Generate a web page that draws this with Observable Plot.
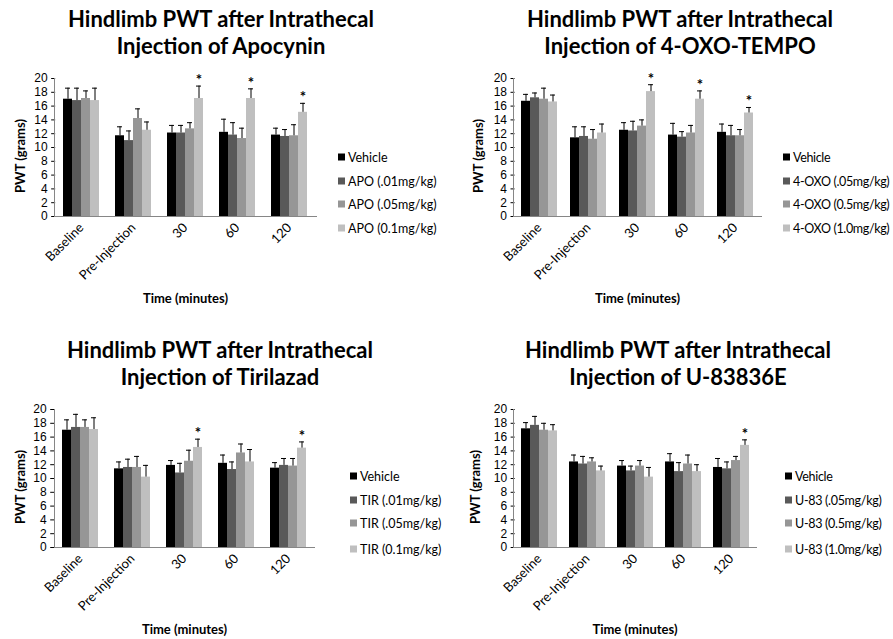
<!DOCTYPE html>
<html><head><meta charset="utf-8">
<script src="https://cdn.jsdelivr.net/npm/d3@7"></script>
<script src="https://cdn.jsdelivr.net/npm/@observablehq/plot@0.6"></script>
<style>
body{margin:0;background:#fff;font-family:Lato,"Open Sans",sans-serif;color:#000;}
#root{position:relative;width:893px;height:639px;overflow:hidden;background:#fff;}
.abs{position:absolute;}
.title{font-weight:bold;font-size:22px;line-height:27px;text-align:center;white-space:nowrap;}
.ylab{font-weight:bold;font-size:13px;transform:translate(-50%,-50%) rotate(-90deg);white-space:nowrap;}
.xlab{font-weight:bold;font-size:13px;transform:translate(-50%,-50%);white-space:nowrap;}
.leg{font-size:12.5px;white-space:nowrap;display:flex;align-items:center;transform:translateY(-50%);}
.sw{width:7px;height:7px;margin-right:3px;flex:none;}
svg [aria-label="y-axis tick"]{stroke:#868686;}
</style></head><body><div id="root"></div><script>
// ---- data ----
const categories = ["Baseline", "Pre-Injection", "30", "60", "120"];
const seriesColors = ["#000000", "#595959", "#969696", "#bfbfbf"];
const yTicks = [0, 2, 4, 6, 8, 10, 12, 14, 16, 18, 20];

// Panel 1: Apocynin
const apoTitle = ["Hindlimb PWT after Intrathecal", "Injection of Apocynin"];
const apoSeries = ["Vehicle", "APO (.01mg/kg)", "APO (.05mg/kg)", "APO (0.1mg/kg)"];
const apoMeans = [
  [17.0, 11.7, 12.1, 12.2, 11.8],
  [16.8, 11.0, 12.1, 11.8, 11.6],
  [17.1, 14.2, 12.7, 11.3, 11.7],
  [16.8, 12.5, 17.1, 17.1, 15.1]
];
const apoSem = [
  [1.6, 1.3, 1.1, 1.9, 1.0],
  [1.8, 1.4, 1.1, 1.8, 1.0],
  [1.1, 1.4, 0.9, 1.5, 1.6],
  [1.8, 1.2, 1.8, 1.4, 1.3]
];
const apoStars = [[0,0,0,0,0],[0,0,0,0,0],[0,0,0,0,0],[0,0,1,1,1]];

// Panel 2: 4-OXO-TEMPO
const oxoTitle = ["Hindlimb PWT after Intrathecal", "Injection of 4-OXO-TEMPO"];
const oxoSeries = ["Vehicle", "4-OXO (.05mg/kg)", "4-OXO (0.5mg/kg)", "4-OXO (1.0mg/kg)"];
const oxoMeans = [
  [16.7, 11.4, 12.5, 11.8, 12.2],
  [17.2, 11.6, 12.4, 11.5, 11.7],
  [17.0, 11.2, 13.1, 12.1, 11.7],
  [16.6, 12.1, 18.1, 17.0, 15.0]
];
const oxoSem = [
  [1.0, 1.6, 1.1, 1.7, 1.2],
  [0.7, 1.4, 1.4, 0.8, 1.5],
  [1.6, 1.4, 0.9, 1.1, 0.9],
  [1.0, 1.3, 1.0, 1.2, 0.8]
];
const oxoStars = [[0,0,0,0,0],[0,0,0,0,0],[0,0,0,0,0],[0,0,1,1,1]];

// Panel 3: Tirilazad
const tirTitle = ["Hindlimb PWT after Intrathecal", "Injection of Tirilazad"];
const tirSeries = ["Vehicle", "TIR (.01mg/kg)", "TIR (.05mg/kg)", "TIR (0.1mg/kg)"];
const tirMeans = [
  [17.0, 11.4, 11.9, 12.2, 11.5],
  [17.4, 11.6, 10.8, 11.3, 11.9],
  [17.4, 11.6, 12.5, 13.7, 11.8],
  [17.1, 10.2, 14.5, 12.4, 14.4]
];
const tirSem = [
  [1.5, 1.0, 0.7, 1.2, 0.8],
  [1.9, 1.2, 1.4, 1.1, 1.0],
  [1.1, 1.6, 1.6, 1.3, 1.1],
  [1.7, 1.7, 1.2, 1.8, 0.9]
];
const tirStars = [[0,0,0,0,0],[0,0,0,0,0],[0,0,0,0,0],[0,0,1,0,1]];

// Panel 4: U-83836E
const uTitle = ["Hindlimb PWT after Intrathecal", "Injection of U-83836E"];
const uSeries = ["Vehicle", "U-83 (.05mg/kg)", "U-83 (0.5mg/kg)", "U-83 (1.0mg/kg)"];
const uMeans = [
  [17.2, 12.4, 11.8, 12.4, 11.6],
  [17.7, 12.1, 11.1, 11.0, 11.4],
  [17.0, 12.4, 11.8, 12.1, 12.6],
  [16.9, 11.1, 10.2, 11.0, 14.8]
];
const uSem = [
  [0.9, 1.0, 0.8, 1.2, 1.3],
  [1.3, 1.1, 0.7, 1.3, 1.0],
  [1.0, 0.6, 0.8, 1.3, 0.6],
  [0.9, 0.7, 1.4, 1.0, 0.8]
];
const uStars = [[0,0,0,0,0],[0,0,0,0,0],[0,0,0,0,0],[0,0,0,0,1]];

const yLabel = "PWT (grams)";
const xLabel = "Time (minutes)";

// ---- layout ----
const panels = [
  {title: apoTitle, series: apoSeries, means: apoMeans, sem: apoSem, stars: apoStars,
   left: 0, top: 60, ml: 54, mr: 13, titleCx: 221, titleTop: 5, legX: 338, legY: [157, 181, 204, 228], legLS: "0px", ylabX: 20, xlabY: 298},
  {title: oxoTitle, series: oxoSeries, means: oxoMeans, sem: oxoSem, stars: oxoStars,
   left: 445, top: 60, ml: 68, mr: 13, titleCx: 680, titleTop: 5, legX: 783, legY: [157, 181, 204, 228], legLS: "-0.35px", ylabX: 478, xlabY: 298},
  {title: tirTitle, series: tirSeries, means: tirMeans, sem: tirSem, stars: tirStars,
   left: 0, top: 391, ml: 54, mr: 15, titleCx: 220, titleTop: 336, legX: 350, legY: [476, 500, 523, 549], legLS: "0px", ylabX: 20, xlabY: 629},
  {title: uTitle, series: uSeries, means: uMeans, sem: uSem, stars: uStars,
   left: 445, top: 391, ml: 68, mr: 18, titleCx: 678, titleTop: 336, legX: 785, legY: [476, 500, 523, 549], legLS: "-0.3px", ylabX: 475, xlabY: 629}
];

const root = document.getElementById("root");
const W = 330, MT = 18, MB = 75, H = 231;
const padIn = 0.26, padOut = 0.13;

function div(cls, style, text) {
  const d = document.createElement("div");
  d.className = "abs " + cls;
  Object.assign(d.style, style);
  if (text != null) d.textContent = text;
  root.appendChild(d);
  return d;
}

for (const p of panels) {
  const rows = [];
  p.series.forEach((s, i) => categories.forEach((c, j) => {
    rows.push({cat: c, series: s, mean: p.means[i][j], top: p.means[i][j] + p.sem[i][j], star: p.stars[i][j] === 1});
  }));
  const plotW = W - p.ml - p.mr;
  const step = plotW / (categories.length - padIn + 2 * padOut);
  const off = padOut * step;

  const plot = Plot.plot({
    width: W, height: H,
    marginLeft: p.ml, marginRight: p.mr, marginTop: MT, marginBottom: MB,
    style: {fontFamily: "Lato, 'Open Sans', sans-serif", fontSize: "13px", color: "#000", background: "transparent", overflow: "visible"},
    fx: {domain: categories, paddingInner: padIn, paddingOuter: padOut, label: null, tickRotate: -45, tickSize: 0, tickPadding: 9},
    x: {domain: p.series, padding: 0, axis: null},
    y: {domain: [0, 20]},
    color: {domain: p.series, range: seriesColors},
    marks: [
      Plot.axisY({ticks: yTicks, tickSize: 4, tickPadding: 4, dx: -off, label: null, fontSize: 12, fontFamily: "'Liberation Sans', Arial, sans-serif"}),
      Plot.barY(rows, {fx: "cat", x: "series", y: "mean", fill: "series"}),
      Plot.ruleX(rows, {fx: "cat", x: "series", y1: "mean", y2: "top", stroke: "#000", strokeWidth: 1}),
      Plot.tickY(rows, {fx: "cat", x: "series", y: "top", stroke: "#000", strokeWidth: 1, insetLeft: 2, insetRight: 2}),
      Plot.text(rows.filter(d => d.star), {fx: "cat", x: "series", y: "top", text: () => "*", fill: "#000", fontSize: 15, fontWeight: "bold", lineAnchor: "bottom", dy: -1})
    ]
  });
  const ys = plot.scale("y");
  const svg = d3.select(plot);
  const y0 = Math.round(ys.apply(0)) + 0.5, y20 = Math.round(ys.apply(20));
  svg.append("line").attr("x1", p.ml).attr("x2", W - p.mr).attr("y1", y0).attr("y2", y0).attr("stroke", "#868686");
  svg.append("line").attr("x1", p.ml + 0.5).attr("x2", p.ml + 0.5).attr("y1", y0).attr("y2", y20).attr("stroke", "#868686");

  const holder = div("", {left: p.left + "px", top: p.top + "px"});
  holder.appendChild(plot);

  div("title", {left: (p.titleCx - 250) + "px", width: "500px", top: p.titleTop + "px"}).innerHTML = p.title.join("<br>");
  div("ylab", {left: p.ylabX + "px", top: (p.top + MT + 78) + "px"}, yLabel);
  div("xlab", {left: (p.left + p.ml + plotW / 2) + "px", top: p.xlabY + "px"}, xLabel);
  p.series.forEach((s, i) => {
    const l = div("leg", {left: p.legX + "px", top: p.legY[i] + "px", letterSpacing: p.legLS});
    const sw = document.createElement("span");
    sw.className = "sw"; sw.style.background = seriesColors[i];
    l.appendChild(sw);
    l.appendChild(document.createTextNode(s));
  });
}
</script></body></html>
